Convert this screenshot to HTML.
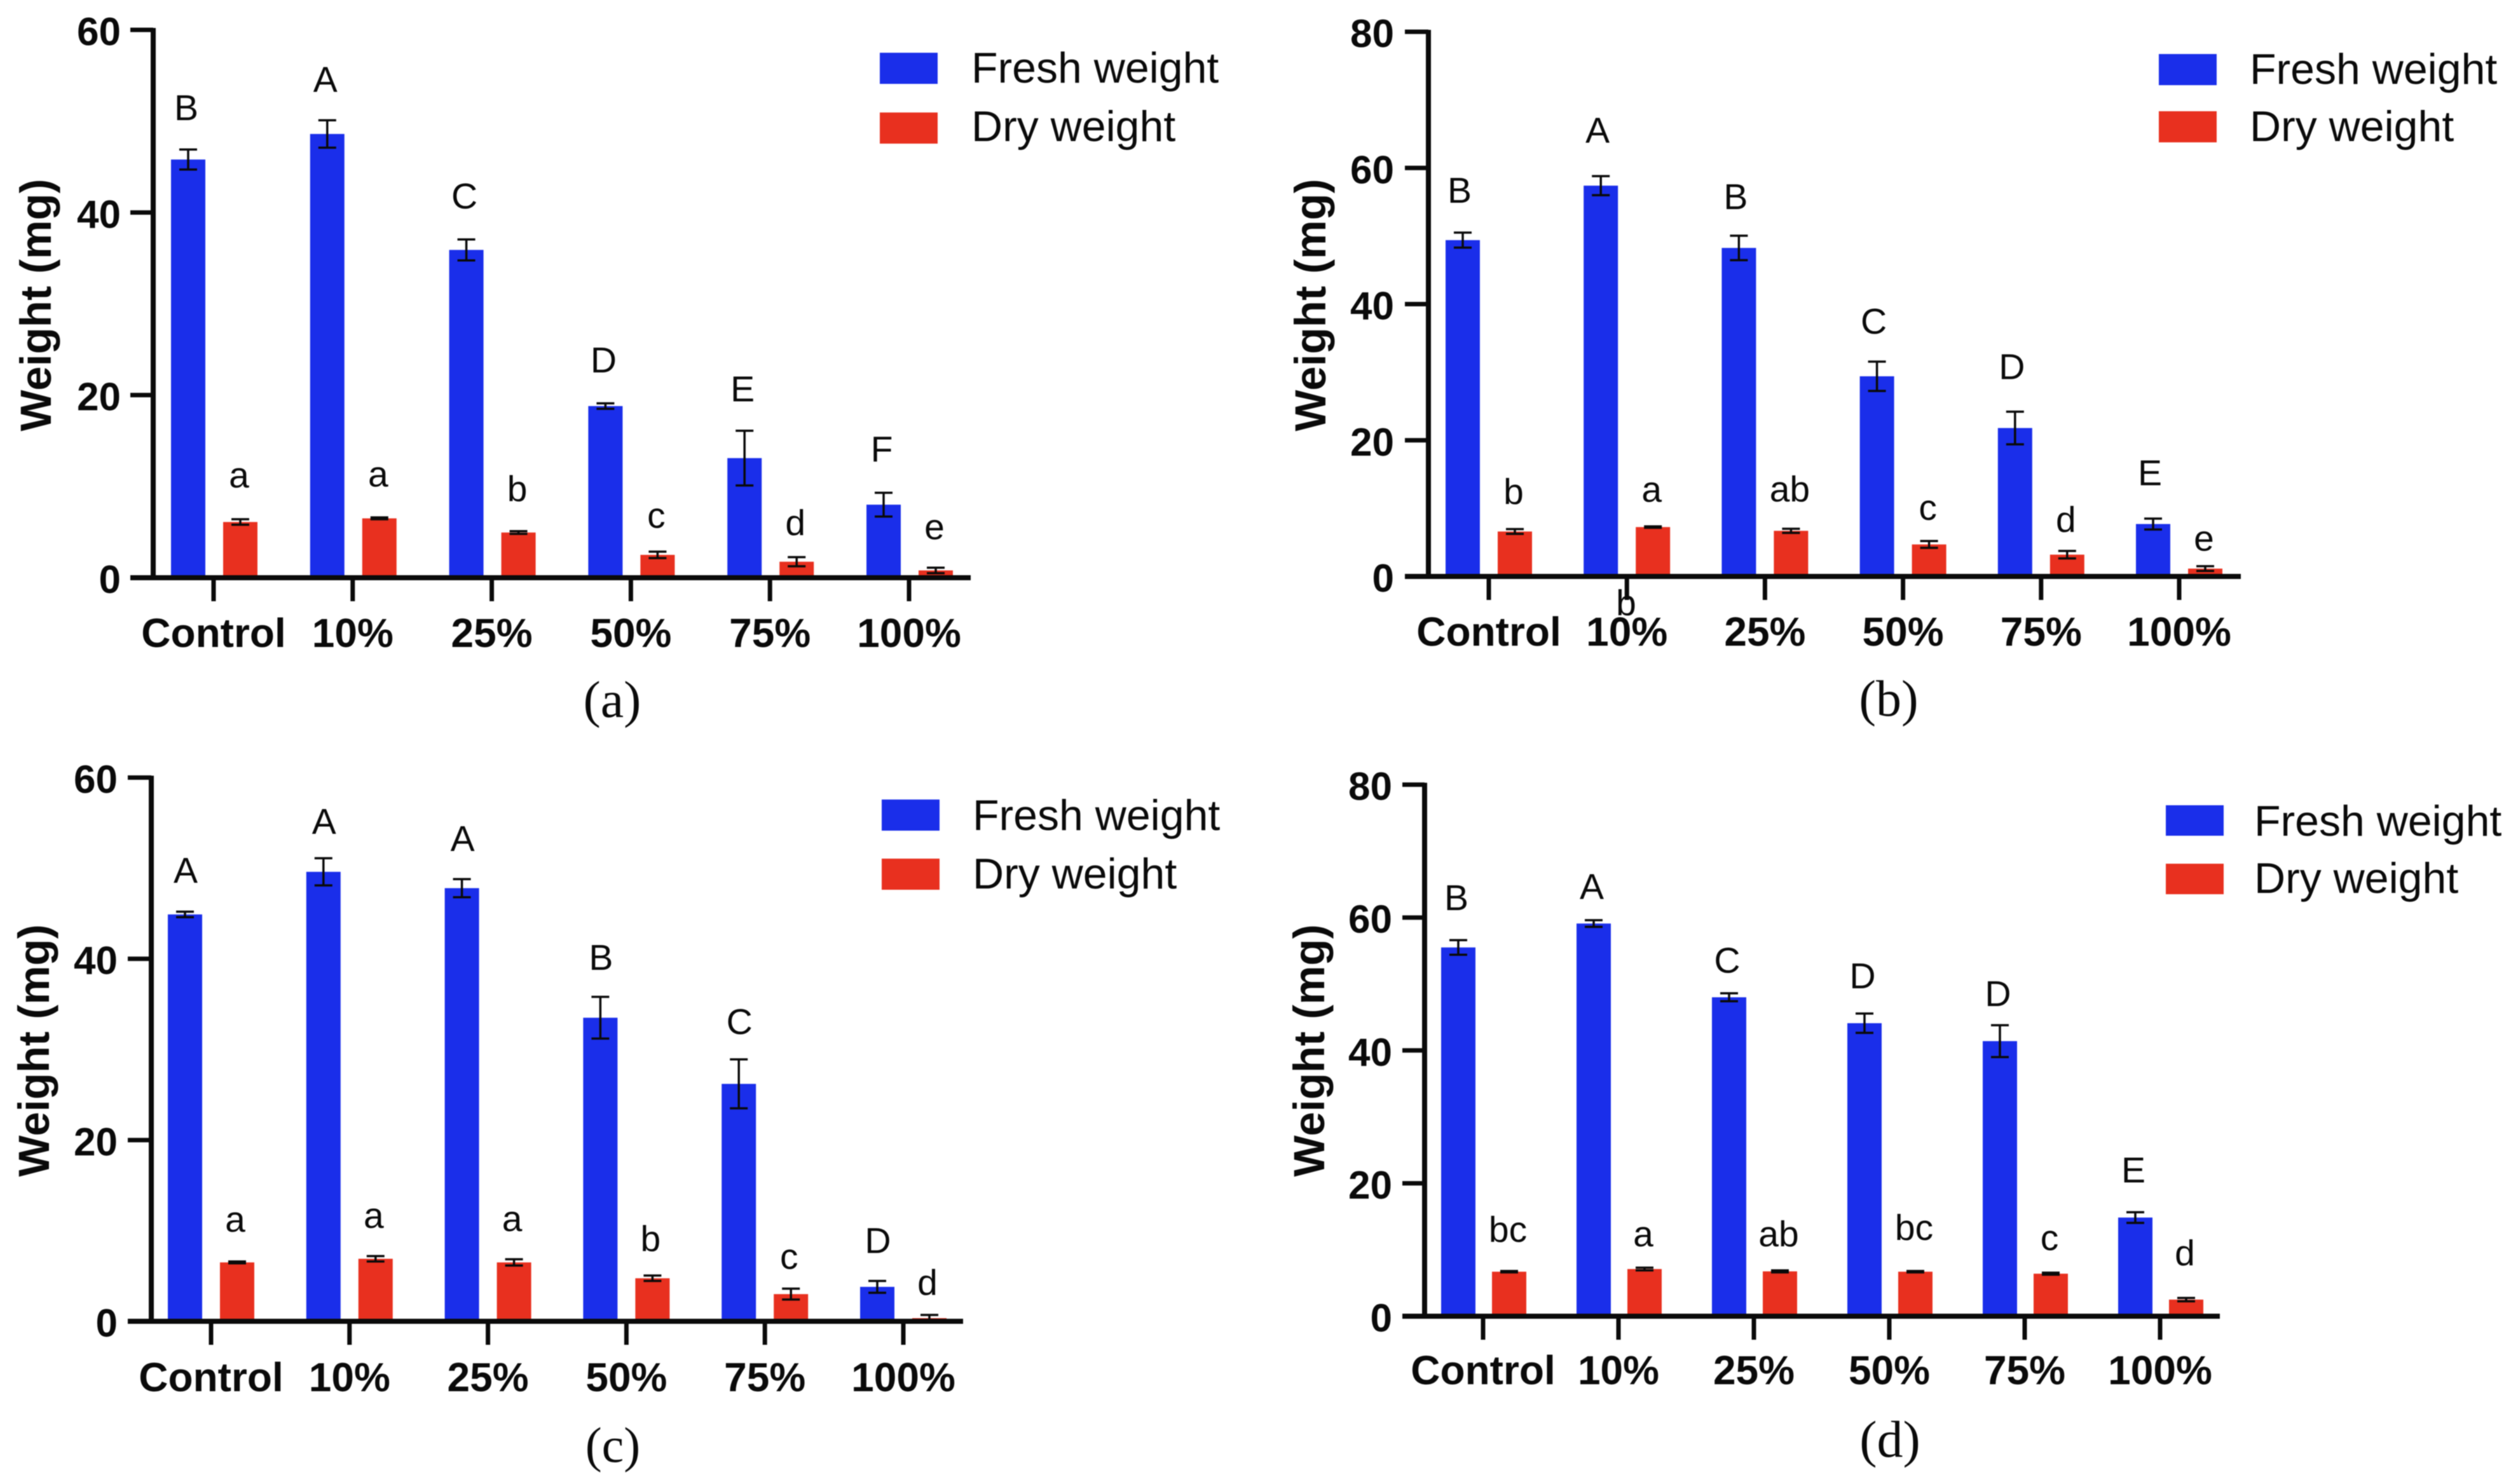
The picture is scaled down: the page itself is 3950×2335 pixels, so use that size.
<!DOCTYPE html>
<html lang="en">
<head>
<meta charset="utf-8">
<title>Fresh and dry weight bar charts</title>
<style>
html,body{margin:0;padding:0;background:#fff;width:3950px;height:2335px;overflow:hidden}
svg{display:block;filter:blur(0.8px)}
text{font-family:"Liberation Sans",sans-serif;fill:#0a0a0a}
</style>
</head>
<body>
<svg id="chart" xmlns="http://www.w3.org/2000/svg" width="3950" height="2335" viewBox="0 0 3950 2335"></svg>
<script>
// ---- shared categories ----
const categories = ['Control', '10%', '25%', '50%', '75%', '100%'];
const seriesNames = ['Fresh weight', 'Dry weight'];
const yTicks60 = [0, 20, 40, 60];
const yTicks80 = [0, 20, 40, 60, 80];

// ---- panel (a) ----
const freshA = [45.8, 48.6, 35.9, 18.8, 13.1, 8.0];
const freshErrA = [1.1, 1.5, 1.15, 0.3, 3.0, 1.3];
const dryA = [6.1, 6.5, 4.95, 2.5, 1.75, 0.8];
const dryErrA = [0.3, 0.1, 0.15, 0.35, 0.5, 0.3];
const freshLettersA = ['B', 'A', 'C', 'D', 'E', 'F'];
const dryLettersA = ['a', 'a', 'b', 'c', 'd', 'e'];
const freshRiseA = [3.2, 3.1, 3.4, 3.4, 3.2, 3.4];
const dryRiseA = [3.5, 3.4, 3.3, 2.6, 2.4, 3.1];

// ---- panel (b) ----
const freshB = [49.4, 57.4, 48.25, 29.4, 21.8, 7.7];
const freshErrB = [1.1, 1.4, 1.8, 2.15, 2.4, 0.8];
const dryB = [6.6, 7.25, 6.7, 4.7, 3.2, 1.15];
const dryErrB = [0.35, 0.1, 0.3, 0.5, 0.55, 0.35];
const freshLettersB = ['B', 'A', 'B', 'C', 'D', 'E'];
const dryLettersB = ['b', 'a', 'ab', 'c', 'd', 'e'];
const freshRiseB = [4.4, 4.9, 3.9, 4.1, 4.8, 4.9];
const dryRiseB = [3.7, 3.6, 4.0, 3.1, 2.8, 2.3];

// ---- panel (c) ----
const freshC = [44.9, 49.6, 47.8, 33.5, 26.2, 3.8];
const freshErrC = [0.3, 1.5, 1.0, 2.3, 2.7, 0.65];
const dryC = [6.5, 6.9, 6.5, 4.75, 3.0, 0.35];
const dryErrC = [0.1, 0.3, 0.35, 0.3, 0.6, 0.35];
const freshLettersC = ['A', 'A', 'A', 'B', 'C', 'D'];
const dryLettersC = ['a', 'a', 'a', 'b', 'c', 'd'];
const freshRiseC = [3.2, 2.7, 3.1, 3.0, 2.8, 3.1];
const dryRiseC = [3.3, 3.1, 3.1, 2.7, 2.2, 2.2];

// ---- panel (d) ----
const freshD = [55.5, 59.1, 48.0, 44.1, 41.4, 14.85];
const freshErrD = [1.1, 0.5, 0.6, 1.45, 2.4, 0.8];
const dryD = [6.7, 7.1, 6.75, 6.7, 6.4, 2.5];
const dryErrD = [0.1, 0.2, 0.15, 0.1, 0.15, 0.25];
const freshLettersD = ['B', 'A', 'C', 'D', 'D', 'E'];
const dryLettersD = ['bc', 'a', 'ab', 'bc', 'c', 'd'];
const freshRiseD = [4.5, 3.2, 3.1, 3.8, 2.9, 4.5];
const dryRiseD = [4.4, 3.2, 3.6, 4.7, 3.4, 4.9];

const BLUE = '#1a2eea';
const RED = '#e8301f';
const INK = '#0a0a0a';
const svg = document.getElementById('chart');

function make(parent, tag, attrs, content) {
  const el = document.createElementNS('http://www.w3.org/2000/svg', tag);
  for (const k in attrs) el.setAttribute(k, attrs[k]);
  if (content !== undefined) el.textContent = content;
  parent.appendChild(el);
  return el;
}

const panels = [
  { id: 'a', ax: 241, top: 47, y0: 909, max: 60, ticks: yTicks60, left: 205, right: 1527, x0: 336, dx: 218.8,
    fresh: freshA, freshErr: freshErrA, dry: dryA, dryErr: dryErrA,
    fl: freshLettersA, dl: dryLettersA, fr: freshRiseA, dr: dryRiseA,
    blueOff: -40, redOff: 42, fdx: -3, ddx: -2,
    xBase: 1018, yRight: 190, titleX: 80, titleY: 480,
    capX: 963, capY: 1128, capText: '(a)', capSize: 82,
    swX: 1384, swW: 91, sw1: 83, sw2: 177, swH: 49, txtX: 1528, b1: 130, b2: 222 },
  { id: 'b', ax: 2247, top: 50, y0: 907, max: 80, ticks: yTicks80, left: 2210, right: 3525, x0: 2342, dx: 217.2,
    fresh: freshB, freshErr: freshErrB, dry: dryB, dryErr: dryErrB,
    fl: freshLettersB, dl: dryLettersB, fr: freshRiseB, dr: dryRiseB,
    blueOff: -41, redOff: 41, fdx: -5, ddx: -2,
    xBase: 1016, yRight: 2193, titleX: 2085, titleY: 480,
    capX: 2971, capY: 1126, capText: '(b)', capSize: 80,
    swX: 3396, swW: 91, sw1: 85, sw2: 175, swH: 49, txtX: 3539, b1: 132, b2: 222 },
  { id: 'c', ax: 238, top: 1223.5, y0: 2079, max: 60, ticks: yTicks60, left: 201, right: 1515, x0: 332, dx: 217.8,
    fresh: freshC, freshErr: freshErrC, dry: dryC, dryErr: dryErrC,
    fl: freshLettersC, dl: dryLettersC, fr: freshRiseC, dr: dryRiseC,
    blueOff: -41, redOff: 41, fdx: 1, ddx: -3,
    xBase: 2189, yRight: 185, titleX: 77, titleY: 1653,
    capX: 964, capY: 2300, capText: '(c)', capSize: 78,
    swX: 1387, swW: 91, sw1: 1258, sw2: 1351, swH: 49, txtX: 1530, b1: 1306, b2: 1398 },
  { id: 'd', ax: 2241, top: 1234.6, y0: 2071, max: 80, ticks: yTicks80, left: 2206, right: 3492, x0: 2333, dx: 213,
    fresh: freshD, freshErr: freshErrD, dry: dryD, dryErr: dryErrD,
    fl: freshLettersD, dl: dryLettersD, fr: freshRiseD, dr: dryRiseD,
    blueOff: -39, redOff: 41, fdx: -3, ddx: -2,
    xBase: 2178, yRight: 2190, titleX: 2083, titleY: 1653,
    capX: 2973, capY: 2292, capText: '(d)', capSize: 82,
    swX: 3407, swW: 91, sw1: 1267, sw2: 1359, swH: 48, txtX: 3546, b1: 1315, b2: 1405 }
];

panels.forEach(function (p) {
  const g = make(svg, 'g', {});
  
  

  const yOf = function (v) { return p.y0 - (v / p.max) * (p.y0 - p.top); };
  const xOf = function (i) { return p.x0 + i * p.dx; };
  const barW = 54;

  // bars, error bars, letters for both series
  [
    { key: 'fresh', vals: p.fresh, errs: p.freshErr, letters: p.fl, rise: p.fr, off: p.blueOff, color: BLUE, ldx: p.fdx },
    { key: 'dry', vals: p.dry, errs: p.dryErr, letters: p.dl, rise: p.dr, off: p.redOff, color: RED, ldx: p.ddx }
  ].forEach(function (s) {
    s.vals.forEach(function (v, i) {
      const cx = xOf(i) + s.off;
      const bar = make(g, 'rect', { x: cx - barW / 2, y: yOf(v), width: barW, height: p.y0 - yOf(v), fill: s.color });
      
      

      const hi = yOf(v + s.errs[i]);
      const lo = yOf(Math.max(0, v - s.errs[i]));
      const err = make(g, 'path', {
        d: 'M' + cx + ' ' + hi + 'V' + lo + 'M' + (cx - 14) + ' ' + hi + 'H' + (cx + 14) + 'M' + (cx - 14) + ' ' + lo + 'H' + (cx + 14),
        stroke: INK, 'stroke-width': 3.5, fill: 'none'
      });
      
      

      const letter = make(g, 'text', {
        x: cx + s.ldx, y: yOf(v + s.errs[i] + s.rise[i]), 'text-anchor': 'middle', 'font-size': 57
      }, s.letters[i]);
      
      
    });
  });

  // axes
  const yAxis = make(g, 'line', { x1: p.ax, x2: p.ax, y1: p.top - 3, y2: p.y0 + 4, stroke: INK, 'stroke-width': 8 });
  
  
  const xAxis = make(g, 'line', { x1: p.left, x2: p.right, y1: p.y0, y2: p.y0, stroke: INK, 'stroke-width': 8 });
  
  

  p.ticks.forEach(function (t) {
    const tick = make(g, 'line', { x1: p.left, x2: p.ax, y1: yOf(t), y2: yOf(t), stroke: INK, 'stroke-width': 7 });
    
    
    const lab = make(g, 'text', { x: p.yRight, y: yOf(t) + 24, 'text-anchor': 'end', 'font-size': 62, 'font-weight': 'bold' }, String(t));
    
    
  });

  categories.forEach(function (c, i) {
    const tick = make(g, 'line', { x1: xOf(i), x2: xOf(i), y1: p.y0, y2: p.y0 + 37, stroke: INK, 'stroke-width': 7 });
    
    
    const lab = make(g, 'text', { x: xOf(i), y: p.xBase, 'text-anchor': 'middle', 'font-size': 64, 'font-weight': 'bold' }, c);
    
    
  });

  // y-axis title
  const title = make(g, 'text', {
    transform: 'translate(' + p.titleX + ' ' + p.titleY + ') rotate(-90)',
    'text-anchor': 'middle', 'font-size': 69, 'font-weight': 'bold'
  }, 'Weight (mg)');
  
  

  // legend
  const sw1 = make(g, 'rect', { x: p.swX, y: p.sw1, width: p.swW, height: p.swH, fill: BLUE });
  
  
  const lt1 = make(g, 'text', { x: p.txtX, y: p.b1, 'font-size': 68 }, seriesNames[0]);
  
  
  const sw2 = make(g, 'rect', { x: p.swX, y: p.sw2, width: p.swW, height: p.swH, fill: RED });
  
  
  const lt2 = make(g, 'text', { x: p.txtX, y: p.b2, 'font-size': 68 }, seriesNames[1]);
  
  

  // caption
  const cap = make(g, 'text', { x: p.capX, y: p.capY, 'text-anchor': 'middle', 'font-size': p.capSize, style: 'font-family:"Liberation Serif",serif' }, p.capText);
  
  
});

// stray letter sitting on the 10% tick of panel (b) in the original figure
const stray = make(svg, 'text', { x: 2558, y: 968, 'text-anchor': 'middle', 'font-size': 57 }, 'b');


</script>
</body>
</html>
